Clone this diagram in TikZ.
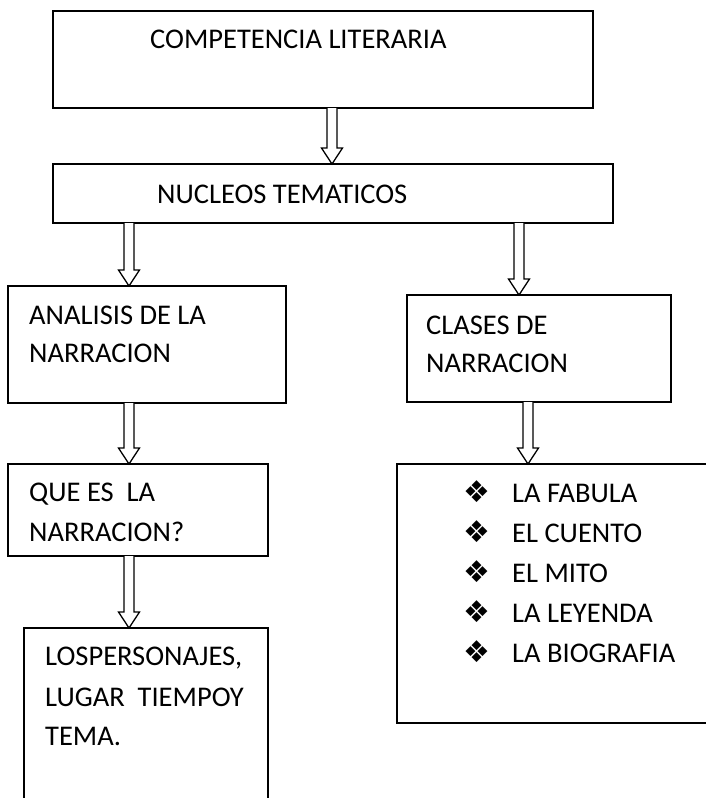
\documentclass[tikz,border=0pt]{standalone}
\usepackage{fontspec}
\setmainfont{Carlito}
\newfontfamily\symfont{DejaVu Sans}
\usetikzlibrary{calc}
\tikzset{
  box/.style={draw, line width=1.5pt, inner sep=0pt, outer sep=0pt, anchor=north west},
  txt/.style={anchor=base west, inner sep=0pt, font=\fontsize{28.5}{34}\selectfont},
  bul/.style={anchor=base west, inner sep=0pt, font=\symfont\fontsize{30}{30}\selectfont},
  arrline/.style={draw, line width=1.3pt, fill=white, line join=miter}
}
\newcommand\blockarr[3]{%
  \path (#1 |- #2.south) coordinate (bs) (#1 |- #3.north) coordinate (be);
  \draw[arrline] ($(bs)+(-5,0)$) -- ($(be)+(-5,-16)$) -- ($(be)+(-10.5,-16)$) -- (be)
     -- ($(be)+(10.5,-16)$) -- ($(be)+(5,-16)$) -- ($(bs)+(5,0)$);
}
\begin{document}
\begin{tikzpicture}[x=1pt,y=-1pt]
\useasboundingbox[fill=white] (0,0) rectangle (705,798);
% boxes
\node[box, minimum width=540pt, minimum height=97pt] (top) at (53,11) {};
\node[box, minimum width=560pt, minimum height=59pt] (nuc) at (53,164) {};
\node[box, minimum width=278pt, minimum height=117pt] (ana) at (8,286) {};
\node[box, minimum width=264pt, minimum height=107pt] (cla) at (407,295) {};
\node[box, minimum width=260pt, minimum height=92pt] (que) at (8,464) {};
\node[box, minimum width=244pt, minimum height=190pt] (per) at (24,628) {};
\node[box, minimum width=330pt, minimum height=259pt] (lst) at (397,464) {};
% arrow columns
\coordinate (cA) at (332,0);
\coordinate (cB) at (129,0);
\coordinate (cC) at (519,0);
\coordinate (cD) at (528,0);
\blockarr{cA}{top}{nuc}
\blockarr{cB}{nuc}{ana}
\blockarr{cC}{nuc}{cla}
\blockarr{cB}{ana}{que}
\blockarr{cD}{cla}{lst}
\blockarr{cB}{que}{per}
% texts
\node[txt] (t1) at (150,48) {COMPETENCIA LITERARIA};
\node[txt] (t2) at (157,203) {NUCLEOS TEMATICOS};
\node[txt] (t3a) at (29,324) {ANALISIS DE LA};
\node[txt] (t3b) at (29,362) {NARRACION};
\node[txt] (t4a) at (426,334) {CLASES DE};
\node[txt] (t4b) at (426,372) {NARRACION};
\node[txt] (t5a) at (29,501) {QUE ES\ \ LA};
\node[txt] (t5b) at (29,541) {NARRACION?};
\node[txt] (t6a) at (45,665) {LOSPERSONAJES,};
\node[txt] (t6b) at (45,706) {LUGAR\ \ TIEMPOY};
\node[txt] (t6c) at (45,745) {TEMA.};
\foreach \y/\t [count=\i] in {502/LA FABULA,542/EL CUENTO,582/EL MITO,622/LA LEYENDA,662/LA BIOGRAFIA}{
  \node[bul] (b\i) at (463,\y) {❖};
  \node[txt] (l\i) at (512,\y) {\t};
}
\end{tikzpicture}
\end{document}
